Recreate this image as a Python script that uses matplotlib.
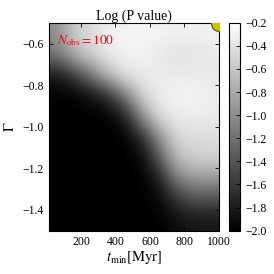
import numpy as np
import matplotlib
matplotlib.use("Agg")
import matplotlib.pyplot as plt

plt.rcParams['font.family'] = ['Liberation Serif', 'DejaVu Serif']
plt.rcParams['mathtext.fontset'] = 'stix'
plt.rcParams['xtick.direction'] = 'in'
plt.rcParams['ytick.direction'] = 'in'
plt.rcParams['xtick.top'] = True
plt.rcParams['ytick.right'] = True

# grid axes
t_min = [100, 200, 300, 400, 500, 600, 700, 800, 900, 1000]
gamma = [-0.55, -0.65, -0.75, -0.85, -0.95, -1.05, -1.15, -1.25, -1.35, -1.45]

# log10 P value, rows top (Gamma=-0.55) to bottom (Gamma=-1.45)
logp_r1 = [-1.00, -0.55, -0.45, -0.30, -0.28, -0.27, -0.28, -0.30, -0.30, -0.30]
logp_r2 = [-1.15, -0.70, -0.50, -0.34, -0.30, -0.30, -0.36, -0.42, -0.40, -0.36]
logp_r3 = [-1.85, -1.60, -1.15, -0.65, -0.38, -0.34, -0.34, -0.36, -0.34, -0.36]
logp_r4 = [-2.00, -2.00, -1.90, -1.70, -1.10, -0.50, -0.32, -0.29, -0.29, -0.34]
logp_r5 = [-2.00, -2.00, -2.00, -2.00, -1.80, -0.95, -0.42, -0.34, -0.34, -0.34]
logp_r6 = [-2.00, -2.00, -2.00, -2.00, -2.00, -1.70, -0.95, -0.47, -0.45, -0.45]
logp_r7 = [-2.00, -2.00, -2.00, -2.00, -2.00, -1.95, -1.35, -0.65, -0.56, -0.50]
logp_r8 = [-2.00, -2.00, -2.00, -2.00, -2.00, -2.00, -1.80, -1.10, -0.92, -0.95]
logp_r9 = [-2.00, -2.00, -2.00, -2.00, -2.00, -2.00, -1.95, -1.64, -1.46, -1.46]
logp_r10 = [-2.00, -2.00, -2.00, -2.00, -2.00, -2.00, -2.00, -1.91, -1.85, -1.85]

logp = np.array([logp_r1, logp_r2, logp_r3, logp_r4, logp_r5,
                 logp_r6, logp_r7, logp_r8, logp_r9, logp_r10])

best_t = [1000]
best_gamma = [-0.5]

fig = plt.figure(figsize=(2.74, 2.74), dpi=100)
ax = fig.add_axes([0.178, 0.158, 0.621, 0.759])
cax = fig.add_axes([0.836, 0.158, 0.040, 0.759])

im = ax.imshow(logp, origin='upper', cmap='gray', vmin=-2.0, vmax=-0.2,
               extent=[13, 1000, -1.5, -0.5], aspect='auto',
               interpolation='bicubic')
ax.plot(best_t, best_gamma, 'o', color='#c8c800', markeredgecolor='#6b6b00',
        markersize=11.5, clip_on=True, zorder=5)
ax.set_xlim(13, 1000)
ax.set_ylim(-1.5, -0.5)
ax.set_xticks([200, 400, 600, 800, 1000])
ax.set_yticks([-1.4, -1.2, -1.0, -0.8, -0.6])
ax.tick_params(labelsize=8.5, length=3, width=0.6)
ax.set_title('Log (P value)', fontsize=10, pad=2)
ax.set_xlabel(r'$t_{\rm min}[{\rm Myr}]$', fontsize=10.5, labelpad=1)
ax.set_ylabel(r'$\Gamma$', fontsize=10.5, labelpad=4)
ax.text(0.05, 0.913, r'$N_{\rm obs} = 100$', color='red', fontsize=9.5,
        transform=ax.transAxes, ha='left', va='center')

cb = fig.colorbar(im, cax=cax)
cb.set_ticks([-2.0, -1.8, -1.6, -1.4, -1.2, -1.0, -0.8, -0.6, -0.4, -0.2])
cb.ax.tick_params(labelsize=8.5, length=3, width=0.6, direction='in')

fig.savefig('out.png', dpi=100)
